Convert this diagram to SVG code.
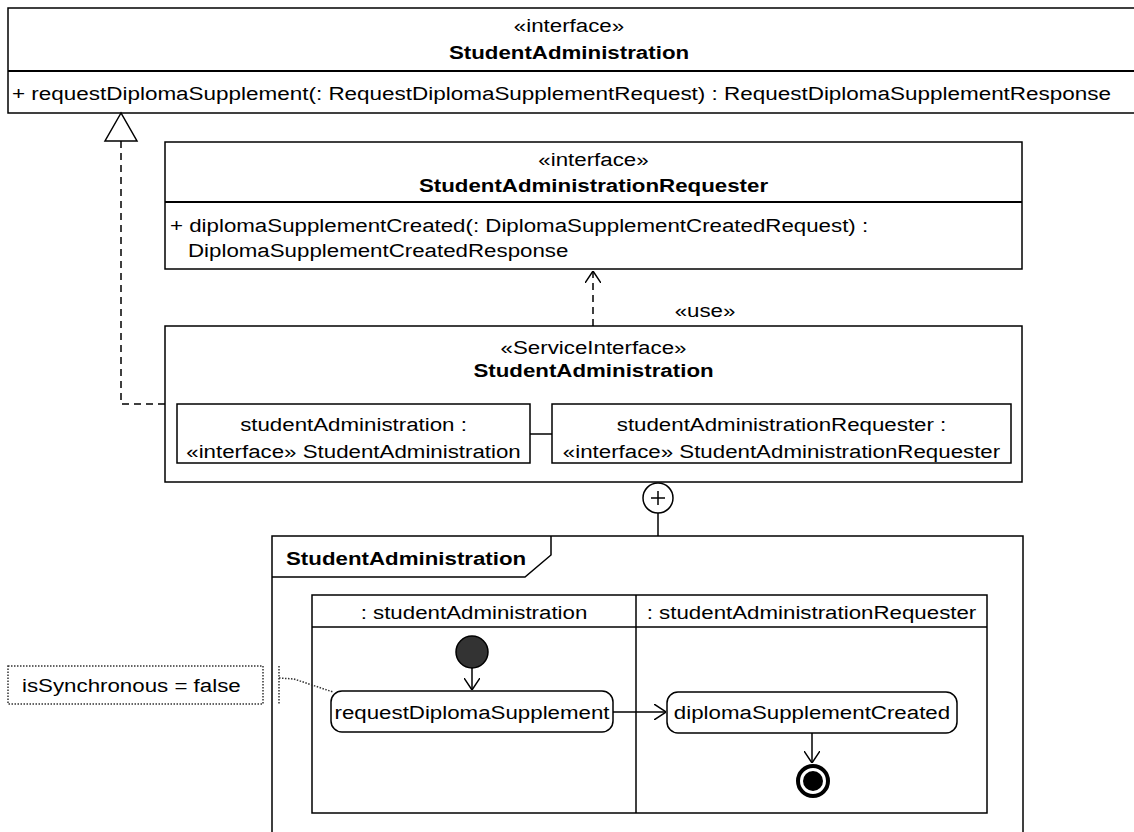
<svg xmlns="http://www.w3.org/2000/svg" width="1134" height="832" viewBox="0 0 1134 832">
<style>
text{font-family:"Liberation Sans",Arial,sans-serif;font-size:19px;fill:#000}
.c{text-anchor:middle}
.b{font-weight:bold}
.box{fill:#fff;stroke:#000;stroke-width:1.5}
.sep{stroke:#000;stroke-width:2}
.ln{fill:none;stroke:#000;stroke-width:1.5}
.dash{fill:none;stroke:#000;stroke-width:1.5;stroke-dasharray:7,5}
.dot{fill:none;stroke:#333;stroke-width:1.5;stroke-dasharray:1.5,1.5}
</style>
<defs>
<marker id="open" viewBox="0 0 12 16" refX="12" refY="8" markerWidth="12" markerHeight="16" markerUnits="userSpaceOnUse" orient="auto">
<path d="M0,0 L12,8 L0,16" fill="none" stroke="#000" stroke-width="1.5"/>
</marker>
</defs>
<rect width="1134" height="832" fill="#fff"/>

<g id="iface-StudentAdministration">
<rect class="box" x="8" y="8" width="1130" height="105"/>
<line class="sep" x1="8" y1="71" x2="1138" y2="71"/>
<text class="c" transform="translate(569,32) scale(1.174,1)">«interface»</text>
<text class="c b" transform="translate(569,59) scale(1.174,1)">StudentAdministration</text>
<text transform="translate(12,100) scale(1.182,1)">+ requestDiplomaSupplement(: RequestDiplomaSupplementRequest) : RequestDiplomaSupplementResponse</text>
</g>

<g id="iface-StudentAdministrationRequester">
<rect class="box" x="165" y="142" width="857" height="127"/>
<line class="sep" x1="165" y1="202" x2="1022" y2="202"/>
<text class="c" transform="translate(593.5,165.5) scale(1.174,1)">«interface»</text>
<text class="c b" transform="translate(593.5,191.5) scale(1.174,1)">StudentAdministrationRequester</text>
<text transform="translate(170,232) scale(1.174,1)">+ diplomaSupplementCreated(: DiplomaSupplementCreatedRequest) :</text>
<text transform="translate(188,257) scale(1.174,1)">DiplomaSupplementCreatedResponse</text>
</g>

<g id="serviceinterface-StudentAdministration">
<rect class="box" x="165" y="326" width="857" height="156"/>
<text class="c" transform="translate(593.5,354) scale(1.174,1)">«ServiceInterface»</text>
<text class="c b" transform="translate(593.5,377) scale(1.174,1)">StudentAdministration</text>
<g id="part-studentAdministration">
<rect class="box" x="177" y="404" width="353" height="59"/>
<text class="c" transform="translate(353.5,431) scale(1.174,1)">studentAdministration :</text>
<text class="c" transform="translate(353.5,458) scale(1.174,1)">«interface» StudentAdministration</text>
</g>
<g id="part-studentAdministrationRequester">
<rect class="box" x="552" y="404" width="459" height="59"/>
<text class="c" transform="translate(781.5,431) scale(1.174,1)">studentAdministrationRequester :</text>
<text class="c" transform="translate(781.5,458) scale(1.174,1)">«interface» StudentAdministrationRequester</text>
</g>
</g>

<g id="frame-StudentAdministration">
<rect class="box" x="272" y="536" width="751" height="310"/>
<path class="ln" d="M272,577 L525,577 L551,555 L551,536"/>
<text class="b" transform="translate(286,565) scale(1.174,1)">StudentAdministration</text>
</g>

<g id="swimlanes">
<rect class="box" x="312" y="595" width="675" height="218"/>
<line class="ln" x1="312" y1="627" x2="987" y2="627"/>
<line class="ln" x1="636" y1="595" x2="636" y2="813"/>
<text class="c" transform="translate(474,619) scale(1.174,1)">: studentAdministration</text>
<text class="c" transform="translate(811.5,619) scale(1.174,1)">: studentAdministrationRequester</text>
</g>

<g id="initial">
<circle cx="472" cy="652" r="16" fill="#333" stroke="#000" stroke-width="1.5"/>
</g>

<g id="action-requestDiplomaSupplement">
<rect class="box" x="331" y="691" width="282" height="41" rx="11"/>
<text class="c" transform="translate(472,718.5) scale(1.174,1)">requestDiplomaSupplement</text>
</g>

<g id="action-diplomaSupplementCreated">
<rect class="box" x="667" y="692" width="290" height="41" rx="11"/>
<text class="c" transform="translate(812,719) scale(1.174,1)">diplomaSupplementCreated</text>
</g>

<g id="final">
<circle cx="813" cy="781" r="15" fill="#fff" stroke="#000" stroke-width="4"/>
<circle cx="813" cy="781" r="10" fill="#000"/>
</g>

<g id="note-isSynchronous">
<rect x="8" y="666" width="255" height="38" fill="#fff" class="dot"/>
<text transform="translate(22,692) scale(1.174,1)">isSynchronous = false</text>
</g>

<g id="plus">
<circle cx="658" cy="498" r="15" fill="#fff" stroke="#000" stroke-width="1.5"/>
<line class="ln" x1="651" y1="498" x2="665" y2="498"/>
<line class="ln" x1="658" y1="491" x2="658" y2="505"/>
</g>

<g id="connectors">
<path class="dash" d="M165,404 L121,404 L121,141"/>
<path d="M121,113 L105,141 L137,141 Z" fill="#fff" stroke="#000" stroke-width="1.5"/>
<line class="dash" x1="593" y1="326" x2="593" y2="271" marker-end="url(#open)"/>
<text class="c" transform="translate(705,317) scale(1.174,1)">«use»</text>
<line class="ln" x1="530" y1="434" x2="552" y2="434"/>
<line class="ln" x1="658" y1="513" x2="658" y2="536"/>
<line class="ln" x1="472" y1="668" x2="472" y2="690" marker-end="url(#open)"/>
<line class="ln" x1="613" y1="712" x2="666" y2="712" marker-end="url(#open)"/>
<line class="ln" x1="812" y1="733" x2="812" y2="763" marker-end="url(#open)"/>
<path class="dot" d="M279,666 L279,704"/>
<path class="dot" d="M279,678 L294,679 L333,692"/>
</g>
</svg>
